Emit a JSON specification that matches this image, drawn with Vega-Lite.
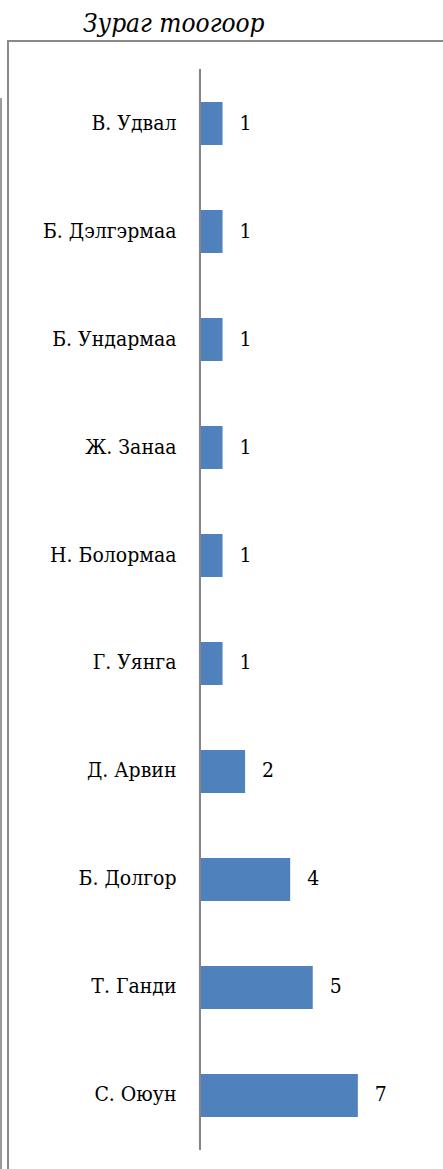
{
  "$schema": "https://vega.github.io/schema/vega-lite/v6.json",
  "autosize": {"type": "none"},
  "width": 440,
  "height": 1137,
  "padding": {"left": 8, "top": 41, "right": -5, "bottom": -9},
  "background": "white",
  "config": {
    "view": {"stroke": "#898989", "strokeWidth": 2}
  },
  "title": {
    "text": "Зураг тоогоор",
    "anchor": "start",
    "frame": "group",
    "dx": 75,
    "dy": 27,
    "offset": 10,
    "baseline": "alphabetic",
    "font": "DejaVu Serif Condensed",
    "fontSize": 26,
    "fontStyle": "italic",
    "fontWeight": "normal",
    "color": "#000000"
  },
  "data": {
    "values": [
      {"name": "В. Удвал\u2009", "count": 1},
      {"name": "Б. Дэлгэрмаа\u2009", "count": 1},
      {"name": "Б. Ундармаа\u2009", "count": 1},
      {"name": "Ж. Занаа", "count": 1},
      {"name": "Н. Болормаа", "count": 1},
      {"name": "Г. Уянга", "count": 1},
      {"name": "Д. Арвин", "count": 2},
      {"name": "Б. Долгор\u2009", "count": 4},
      {"name": "Т. Ганди", "count": 5},
      {"name": "С. Оюун", "count": 7}
    ]
  },
  "layer": [
    {
      "encoding": {
        "y": {
          "field": "name",
          "type": "nominal",
          "sort": null,
          "scale": {"paddingInner": 0.6, "paddingOuter": 0.564},
          "axis": {
            "title": null,
            "orient": "left",
            "offset": -192,
            "domain": false,
            "ticks": false,
            "labelPadding": 24,
            "labelFont": "DejaVu Serif Condensed",
            "labelFontSize": 21,
            "labelColor": "#000000",
            "labelLimit": 300
          }
        },
        "x": {
          "field": "count",
          "type": "quantitative",
          "scale": {"domain": [-8.514, 10.998], "nice": false, "zero": false},
          "axis": null
        }
      },
      "layer": [
        {"mark": {"type": "bar", "color": "#4F81BD"}},
        {
          "mark": {"type": "text", "align": "left", "baseline": "middle", "dx": 17, "fontSize": 21, "font": "DejaVu Serif Condensed", "color": "#000000"},
          "encoding": {"text": {"field": "count", "type": "quantitative"}}
        }
      ]
    },
    {
      "encoding": {
        "y": {
          "datum": 0,
          "type": "quantitative",
          "scale": {"domain": [-0.264, 10.264], "nice": false, "zero": false, "reverse": true},
          "axis": null
        }
      },
      "layer": [
        {
          "mark": {"type": "rule", "color": "#868686", "strokeWidth": 2},
          "encoding": {
            "x": {"datum": 0, "type": "quantitative"},
            "y2": {"datum": 10}
          }
        },
        {
          "mark": {"type": "rule", "color": "#9a9a9a", "strokeWidth": 1.5},
          "encoding": {
            "x": {"datum": -8.82, "type": "quantitative"},
            "y": {"datum": 0.27, "type": "quantitative"},
            "y2": {"datum": 10.6}
          }
        }
      ]
    }
  ],
  "resolve": {"scale": {"y": "independent"}, "axis": {"y": "independent"}}
}
